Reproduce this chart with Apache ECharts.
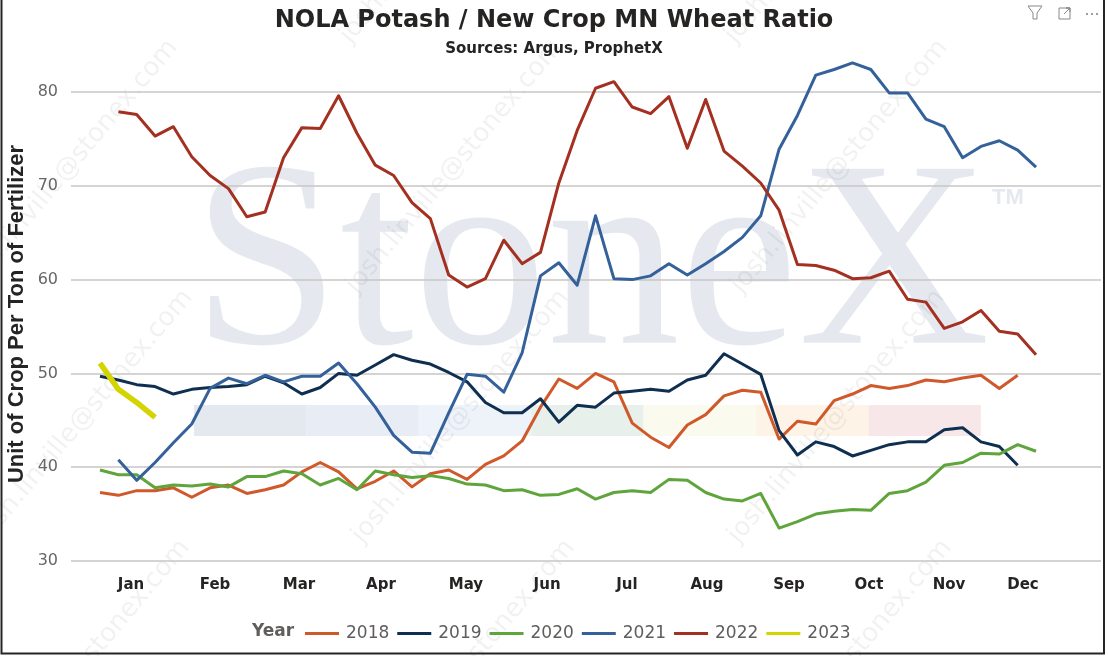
<!DOCTYPE html>
<html>
<head>
<meta charset="utf-8">
<script src="https://cdn.jsdelivr.net/npm/echarts@6/dist/echarts.min.js"></script>
<style>
html,body{margin:0;padding:0;background:#fff;}
#chart{width:1108px;height:656px;}
</style>
</head>
<body>
<div id="chart"></div>
<script>
// Week index 0..51 (weekly observations through the year)
const monthNames = ['Jan','Feb','Mar','Apr','May','Jun','Jul','Aug','Sep','Oct','Nov','Dec'];
const monthPos   = [1.69, 6.27, 10.84, 15.31, 19.94, 24.36, 28.71, 33.07, 37.54, 41.90, 46.26, 50.29];
const years = ['2018','2019','2020','2021','2022','2023'];

const y2018 = [37.3,37.0,37.5,37.5,37.8,36.8,37.8,38.1,37.2,37.6,38.1,39.5,40.5,39.5,37.7,38.5,39.6,37.9,39.3,39.7,
               38.7,40.3,41.2,42.8,46.4,49.4,48.4,50.0,49.1,44.7,43.2,42.1,44.5,45.6,47.6,48.2,48.0,43.0,44.9,44.6,
               47.1,47.8,48.7,48.4,48.7,49.3,49.1,49.5,49.8,48.4,49.8,null];
const y2019 = [49.7,49.3,48.8,48.6,47.8,48.3,48.5,48.6,48.8,49.7,49.0,47.8,48.5,50.0,49.8,50.9,52.0,51.4,51.0,50.1,
               49.1,46.9,45.8,45.8,47.3,44.8,46.6,46.4,47.9,48.1,48.3,48.1,49.3,49.8,52.1,51.0,49.9,43.9,41.3,42.7,
               42.2,41.2,41.8,42.4,42.7,42.7,44.0,44.2,42.7,42.2,40.2,null];
const y2020 = [39.7,39.2,39.2,37.8,38.1,38.0,38.2,37.9,39.0,39.0,39.6,39.3,38.1,38.8,37.6,39.6,39.2,38.9,39.1,38.8,
               38.2,38.1,37.5,37.6,37.0,37.1,37.7,36.6,37.3,37.5,37.3,38.7,38.6,37.3,36.6,36.4,37.2,33.5,34.2,35.0,
               35.3,35.5,35.4,37.2,37.5,38.4,40.2,40.5,41.5,41.4,42.4,41.7];
const y2021 = [null,40.8,38.6,40.5,42.6,44.6,48.4,49.5,48.9,49.8,49.1,49.7,49.7,51.1,48.9,46.4,43.4,41.6,41.5,45.8,
               49.9,49.7,48.0,52.2,60.4,61.8,59.4,66.8,60.1,60.0,60.4,61.7,60.5,61.7,63.0,64.5,66.8,73.9,77.5,81.8,
               82.4,83.1,82.4,79.9,79.9,77.1,76.3,73.0,74.2,74.8,73.8,72.0];
const y2022 = [null,77.9,77.6,75.3,76.3,73.1,71.1,69.7,66.7,67.2,73.0,76.2,76.1,79.6,75.6,72.2,71.1,68.2,66.5,60.5,
               59.2,60.1,64.2,61.7,62.9,70.3,75.9,80.4,81.1,78.4,77.7,79.5,74.0,79.2,73.7,72.1,70.3,67.4,61.6,61.5,
               61.0,60.1,60.2,60.9,57.9,57.6,54.8,55.5,56.7,54.5,54.2,52.0];
const y2023 = [51.1,48.3,46.9,45.3];

const yearValues = [y2018, y2019, y2020, y2021, y2022, y2023];
const yearColors = ['#D0592B','#0F2F51','#5FA53C','#34619A','#A33020','#D4D400'];
const yearWidths = [3,3,3,3,3,5.5];

function toPairs(arr){
  const out = [];
  arr.forEach((v,i)=>{ if(v!==null) out.push([i,v]); });
  return out;
}

const series = years.map((y,k)=>({
  name:y, type:'line', data:toPairs(yearValues[k]),
  showSymbol:false, symbol:'none', smooth:false, clip:false,
  lineStyle:{color:yearColors[k], width:yearWidths[k], join:'round'},
  itemStyle:{color:yearColors[k]},
  z: 3 + k
}));

// watermark graphics
const graphics = [];
const wmStarts = [[-40,40],[345,40],[730,40],[-34,290],[351,290],[736,290],[-19,540],[357,540],[733,540],[-22,790],[363,790],[740,790]];
wmStarts.forEach(p=>{
  graphics.push({type:'text', x:p[0], y:p[1], rotation:Math.PI*50/180, z:-5, silent:true,
    style:{text:'josh.linville@stonex.com', font:'26px "DejaVu Sans"', fill:'rgba(0,0,0,0.055)', align:'left', verticalAlign:'middle'}});
});
graphics.push({type:'text', x:192, y:273, z:-10, silent:true,
  style:{text:'StoneX', font:'266px "Liberation Serif"', fill:'#E5E9EF', align:'left', verticalAlign:'middle'}});
graphics.push({type:'text', x:992, y:198, z:-10, silent:true,
  style:{text:'TM', font:'bold 22px "Liberation Sans"', fill:'#E5E9EF', align:'left', verticalAlign:'middle'}});
const bandColors = ['#E4E8EF','#E7ECF5','#EEF3F9','#E7F0EB','#FBFAEE','#FDF3E6','#F8E7E8'];
bandColors.forEach((c,k)=>{
  graphics.push({type:'rect', z:-10, silent:true, shape:{x:194+k*112.4, y:405, width:112.4, height:31}, style:{fill:c}});
});
// y axis title
graphics.push({type:'text', x:17, y:314, rotation:Math.PI/2, silent:true,
  style:{text:'Unit of Crop Per Ton of Fertilizer', font:'bold 22px "Liberation Sans"', fill:'#252423', align:'center', verticalAlign:'middle'}});
// legend title
graphics.push({type:'text', x:252, y:632, silent:true,
  style:{text:'Year', font:'bold 17px "DejaVu Sans"', fill:'#605E5C', align:'left', verticalAlign:'middle'}});
// frame
graphics.push({type:'polyline', silent:true, shape:{points:[[1.5,0],[1.5,653.5],[1104,653.5],[1104,0]]},
  style:{stroke:'#252525', lineWidth:2, fill:null}});
// header icons
graphics.push({type:'polyline', silent:true, shape:{points:[[1028,6],[1042,6],[1037,13],[1037,19],[1033,19],[1033,13],[1028,6]]},
  style:{stroke:'#8A8886', lineWidth:1, fill:null}});
graphics.push({type:'rect', silent:true, shape:{x:1059,y:8,width:11,height:11}, style:{stroke:'#8A8886', lineWidth:1, fill:null}});
graphics.push({type:'polyline', silent:true, shape:{points:[[1064,14],[1070,8],[1066,8],[1070,8],[1070,12]]}, style:{stroke:'#8A8886', lineWidth:1, fill:null}});
[1087,1092,1097].forEach(x=>{
  graphics.push({type:'circle', silent:true, shape:{cx:x, cy:14, r:1.1}, style:{fill:'#8A8886'}});
});

const chart = echarts.init(document.getElementById('chart'), null, {renderer:'canvas'});
chart.setOption({
  backgroundColor:'#ffffff',
  animation:false,
  title:{
    text:'NOLA Potash / New Crop MN Wheat Ratio',
    subtext:'Sources: Argus, ProphetX',
    left:'center', top:3, itemGap:7,
    textStyle:{fontFamily:'DejaVu Sans', fontWeight:'bold', fontSize:24, color:'#252423', lineHeight:26},
    subtextStyle:{fontFamily:'DejaVu Sans', fontWeight:'bold', fontSize:15, color:'#252423', lineHeight:17}
  },
  legend:{
    data:years, left:300, top:620, itemWidth:34, itemHeight:18, itemGap:8,
    icon:'path://M0,8 L34,8 L34,11 L0,11 Z',
    textStyle:{fontFamily:'DejaVu Sans', fontSize:17, color:'#605E5C', padding:[0,0,0,2]},
    selectedMode:false
  },
  grid:{left:71, right:7, top:45.1, bottom:95},
  xAxis:{
    type:'value', min:-1.58, max:54.54,
    axisLine:{show:false}, axisTick:{show:false}, splitLine:{show:false},
    axisLabel:{
      customValues:monthPos,
      formatter:function(v){
        let best=0, d=1e9;
        monthPos.forEach((p,k)=>{ if(Math.abs(p-v)<d){d=Math.abs(p-v);best=k;} });
        return monthNames[best];
      },
      fontFamily:'DejaVu Sans', fontWeight:'bold', fontSize:15, color:'#252423', margin:17
    }
  },
  yAxis:{
    type:'value', min:30, max:85, interval:10,
    axisLine:{show:false}, axisTick:{show:false},
    axisLabel:{fontFamily:'DejaVu Sans', fontSize:16, color:'#666666', margin:13, showMaxLabel:false},
    splitLine:{show:true, showMaxLine:false, lineStyle:{color:'#C8C6C4', width:1.5}}
  },
  graphic:graphics,
  series:series
});
</script>
</body>
</html>
